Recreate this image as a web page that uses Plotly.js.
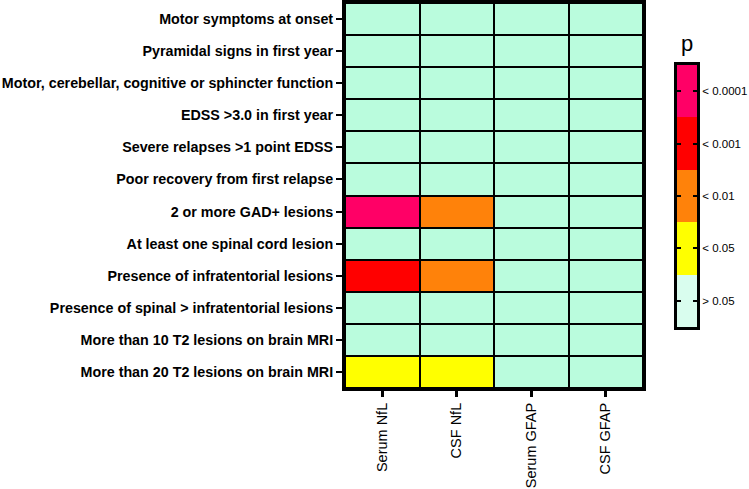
<!DOCTYPE html>
<html>
<head>
<meta charset="utf-8">
<script src="https://cdn.plot.ly/plotly-3.0.1.min.js"></script>
<style>html,body{margin:0;padding:0;background:#fff;}#chart{width:749px;height:489px;}</style>
</head>
<body>
<div id="chart"></div>
<script>
// Data
var outcomes = [
  "Motor symptoms at onset",
  "Pyramidal signs in first year",
  "Motor, cerebellar, cognitive or sphincter function",
  "EDSS >3.0 in first year",
  "Severe relapses >1 point EDSS",
  "Poor recovery from first relapse",
  "2 or more GAD+ lesions",
  "At least one spinal cord lesion",
  "Presence of infratentorial lesions",
  "Presence of spinal > infratentorial lesions",
  "More than 10 T2 lesions on brain MRI",
  "More than 20 T2 lesions on brain MRI"
];
var biomarkers = ["Serum NfL", "CSF NfL", "Serum GFAP", "CSF GFAP"];
// significance level: 0 = >0.05, 1 = <0.05, 2 = <0.01, 3 = <0.001, 4 = <0.0001
var serumNfL  = [0,0,0,0,0,0,4,0,3,0,0,1];
var csfNfL    = [0,0,0,0,0,0,2,0,2,0,0,1];
var serumGFAP = [0,0,0,0,0,0,0,0,0,0,0,0];
var csfGFAP   = [0,0,0,0,0,0,0,0,0,0,0,0];
var levelLabels = ["> 0.05", "< 0.05", "< 0.01", "< 0.001", "< 0.0001"];
var levelValues = [0, 1, 2, 3, 4];
var cellColors = ["#BAFCDD", "#FFFF00", "#FF820A", "#FF0000", "#FF0066"];
var barColors  = ["#D9FDEE", "#FFFF00", "#FF820A", "#FF0000", "#FF0066"];

function stepScale(cols) {
  var n = cols.length, s = [];
  for (var i = 0; i < n; i++) {
    s.push([i / n, cols[i]]);
    s.push([(i + 1) / n, cols[i]]);
  }
  return s;
}

var z = outcomes.map(function (o, i) {
  return [serumNfL[i], csfNfL[i], serumGFAP[i], csfGFAP[i]];
});

var font = "Liberation Sans, Arial, sans-serif";

var main = {
  type: "heatmap",
  x: biomarkers,
  y: outcomes,
  z: z,
  zmin: -0.5, zmax: 4.5,
  colorscale: stepScale(cellColors),
  showscale: false,
  xgap: 2, ygap: 2,
  hoverinfo: "skip"
};

var bar = {
  type: "heatmap",
  x: ["p"],
  y: levelValues,
  z: levelValues.map(function (v) { return [v]; }),
  zmin: -0.5, zmax: 4.5,
  colorscale: stepScale(barColors),
  showscale: false,
  xaxis: "x2", yaxis: "y2",
  hoverinfo: "skip"
};

var W = 749, H = 489, ml = 345, mr = 20, mt = 3, mb = 101;
var pw = W - ml - mr, ph = H - mt - mb;

var layout = {
  width: W, height: H,
  margin: {l: ml, r: mr, t: mt, b: mb, pad: 0},
  paper_bgcolor: "#ffffff",
  plot_bgcolor: "#000000",
  font: {family: font, color: "#000"},
  xaxis: {
    domain: [0, (643 - ml) / pw],
    type: "category",
    showline: true, linewidth: 3, linecolor: "#000", mirror: true,
    ticks: "outside", ticklen: 6, tickwidth: 3, tickcolor: "#000",
    tickangle: -90,
    tickfont: {family: font, size: 14.5, color: "#000"},
    showgrid: false, zeroline: false, fixedrange: true
  },
  yaxis: {
    type: "category",
    autorange: "reversed",
    showline: true, linewidth: 3, linecolor: "#000", mirror: true,
    ticks: "outside", ticklen: 6, tickwidth: 2, tickcolor: "#000",
    tickfont: {family: font, size: 14.3, color: "#000", weight: "bold"},
    showgrid: false, zeroline: false, fixedrange: true
  },
  xaxis2: {
    domain: [(677 - ml) / pw, (697 - ml) / pw],
    anchor: "y2",
    showticklabels: false, ticks: "",
    showline: true, linewidth: 3, linecolor: "#000", mirror: true,
    showgrid: false, zeroline: false, fixedrange: true
  },
  yaxis2: {
    domain: [(H - mb - 327) / ph, (H - mb - 65) / ph],
    anchor: "x2",
    side: "right",
    range: [-0.5, 4.5],
    tickmode: "array",
    tickvals: levelValues,
    ticktext: levelLabels,
    ticks: "inside", ticklen: 4, tickwidth: 2, tickcolor: "#000",
    showline: true, linewidth: 3, linecolor: "#000", mirror: "ticks",
    tickfont: {family: font, size: 11.5, color: "#000"},
    showgrid: false, zeroline: false, fixedrange: true
  },
  annotations: [{
    text: "p", xref: "paper", yref: "paper",
    x: (687 - ml) / pw, y: (H - mb - 43) / ph,
    xanchor: "center", yanchor: "middle",
    showarrow: false,
    font: {family: font, size: 22, color: "#000"}
  }]
};

Plotly.newPlot("chart", [main, bar], layout, {displayModeBar: false, staticPlot: true});
</script>
</body>
</html>
